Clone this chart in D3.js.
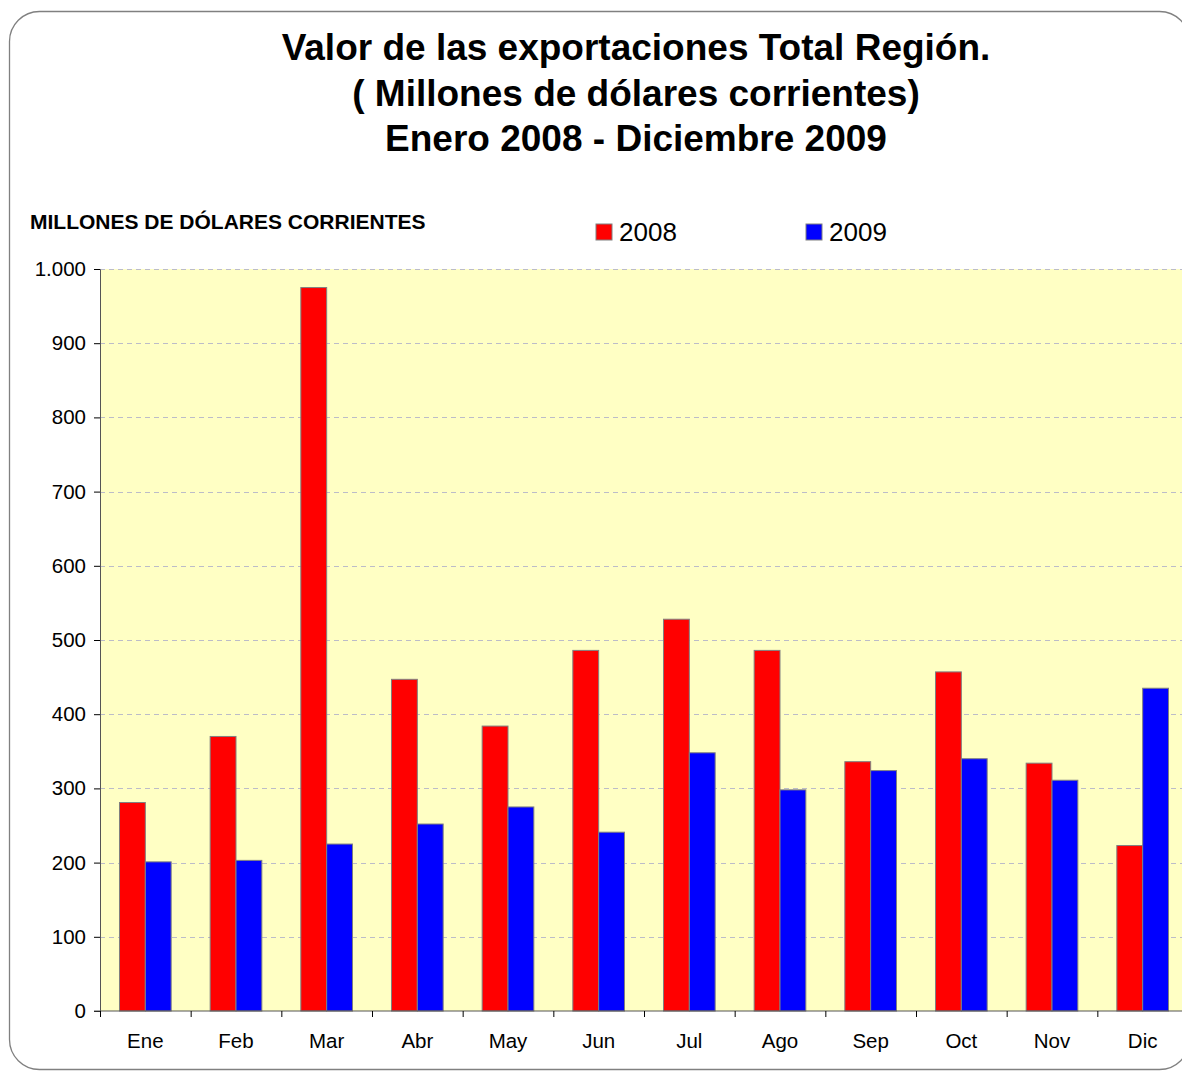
<!DOCTYPE html>
<html>
<head>
<meta charset="utf-8">
<script src="https://cdn.jsdelivr.net/npm/d3@7"></script>
<style>
    body { margin: 0; background: #fff; }
    svg { display: block; font-family: "Liberation Sans", Arial, sans-serif; }
</style>
</head>
<body>
<svg id="chart" width="1182" height="1072"></svg>
<script>
const months = ["Ene", "Feb", "Mar", "Abr", "May", "Jun", "Jul", "Ago", "Sep", "Oct", "Nov", "Dic"];
const years = ["2008", "2009"];
const values2008 = [281, 370, 975, 447, 384, 486, 528, 486, 336, 457, 334, 223];
const values2009 = [201, 203, 225, 252, 275, 241, 348, 298, 324, 340, 311, 435];
const yTicks = [0, 100, 200, 300, 400, 500, 600, 700, 800, 900, 1000];
const titleLines = [
    "Valor de las exportaciones Total Región.",
    "( Millones de dólares corrientes)",
    "Enero 2008 - Diciembre 2009"
];
const yTitle = "MILLONES DE DÓLARES CORRIENTES";

const colors = { "2008": "#ff0000", "2009": "#0000ff" };

const svg = d3.select("#chart");

const margin = { top: 269, left: 100, bottom: 61 };
const plotWidth = 1088;
const plotHeight = 1072 - margin.top - margin.bottom;

// outer rounded frame
svg.append("rect")
    .attr("x", 9.5)
    .attr("y", 11.5)
    .attr("width", 1180)
    .attr("height", 1058)
    .attr("rx", 30)
    .attr("fill", "#fff")
    .attr("stroke", "#808080")
    .attr("stroke-width", 1.3);

// title
svg.append("g")
    .selectAll("text")
    .data(titleLines)
    .join("text")
    .attr("x", 636)
    .attr("y", (d, i) => 60 + i * 45.5)
    .attr("text-anchor", "middle")
    .style("font-size", "37px")
    .style("font-weight", "bold")
    .text(d => d);

svg.append("text")
    .attr("x", 30)
    .attr("y", 229)
    .style("font-size", "21px")
    .style("font-weight", "bold")
    .text(yTitle);

// legend
const legend = svg.append("g")
    .selectAll("g")
    .data(years)
    .join("g")
    .attr("transform", (d, i) => `translate(${596 + i * 210}, 224)`);

legend.append("rect")
    .attr("width", 16)
    .attr("height", 16)
    .attr("fill", d => colors[d])
    .attr("stroke", "#808080")
    .attr("stroke-width", 1);

legend.append("text")
    .attr("x", 23)
    .attr("y", 17)
    .style("font-size", "26px")
    .text(d => d);

const g = svg.append("g")
    .attr("transform", `translate(${margin.left},${margin.top})`);

const x = d3.scaleBand()
    .domain(months)
    .range([0, plotWidth])
    .paddingInner(0.43)
    .paddingOuter(0.215);

const xBand = d3.scaleBand()
    .domain(months)
    .range([0, plotWidth]);

const xSub = d3.scaleBand()
    .domain(years)
    .range([0, x.bandwidth()]);

const y = d3.scaleLinear()
    .domain([0, 1000])
    .range([plotHeight, 0]);

// plot background
g.append("rect")
    .attr("width", plotWidth)
    .attr("height", plotHeight)
    .attr("fill", "#ffffc4");

// gridlines
g.append("g")
    .selectAll("line")
    .data(yTicks.filter(t => t > 0))
    .join("line")
    .attr("x1", 0)
    .attr("x2", plotWidth)
    .attr("y1", d => Math.round(y(d)) + 0.5)
    .attr("y2", d => Math.round(y(d)) + 0.5)
    .attr("stroke", "#bcbcc8")
    .attr("stroke-width", 1)
    .attr("stroke-dasharray", "5,4");

// bars
const series = [values2008, values2009];

const monthGroups = g.append("g")
    .selectAll("g")
    .data(months)
    .join("g")
    .attr("transform", d => `translate(${x(d)},0)`);

monthGroups.selectAll("rect")
    .data((m, i) => years.map((yr, k) => ({ year: yr, value: series[k][i] })))
    .join("rect")
    .attr("x", d => xSub(d.year))
    .attr("y", d => y(d.value))
    .attr("width", xSub.bandwidth())
    .attr("height", d => plotHeight - y(d.value))
    .attr("fill", d => colors[d.year])
    .attr("stroke", "#808080")
    .attr("stroke-width", 1);

// y axis
const yAxis = g.append("g")
    .call(d3.axisLeft(y)
        .tickValues(yTicks)
        .tickSize(6)
        .tickPadding(8)
        .tickFormat(d => d === 1000 ? "1.000" : d));

yAxis.select(".domain").attr("stroke", "#555");
yAxis.selectAll(".tick line").attr("stroke", "#000");
yAxis.selectAll(".tick text")
    .style("font-size", "20.5px")
    .style("font-family", "'Liberation Sans', Arial, sans-serif")
    .attr("fill", "#000");

// x axis: ticks on band boundaries
const xAxis = g.append("g")
    .attr("transform", `translate(0,${plotHeight})`);

xAxis.append("line")
    .attr("x1", -6)
    .attr("x2", plotWidth)
    .attr("stroke", "#555");

xAxis.selectAll(".bt")
    .data(months)
    .join("line")
    .attr("class", "bt")
    .attr("x1", d => xBand(d) + 0.5)
    .attr("x2", d => xBand(d) + 0.5)
    .attr("y1", 0)
    .attr("y2", 6)
    .attr("stroke", "#000");

xAxis.selectAll("text")
    .data(months)
    .join("text")
    .attr("x", d => xBand(d) + xBand.bandwidth() / 2)
    .attr("y", 37)
    .attr("text-anchor", "middle")
    .style("font-size", "20.5px")
    .text(d => d);
</script>
</body>
</html>
